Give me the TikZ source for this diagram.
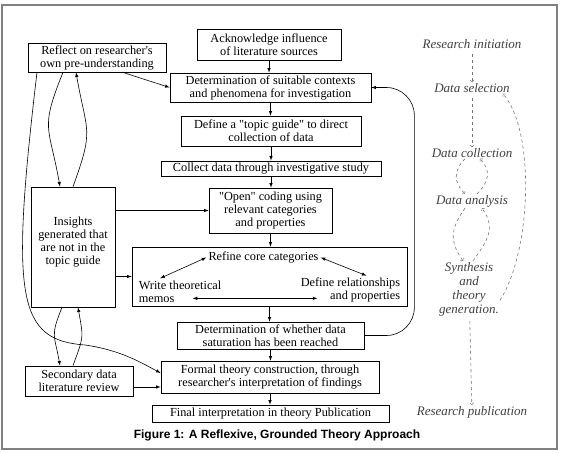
\documentclass[tikz,border=0pt]{standalone}
\usepackage{fontspec}
\setmainfont{Liberation Serif}[Ligatures=TeXOff]
\newfontfamily\capfont{Liberation Sans}
\usetikzlibrary{positioning}

\begin{document}
\begin{tikzpicture}[x=1pt,y=-1pt,>=latex,
  box/.style={draw, line width=0.7pt, align=center, inner sep=2pt, font=\fontsize{12.3}{13}\selectfont},
  boxtext/.style={align=center, inner sep=2pt, font=\fontsize{12.3}{13}\selectfont},
  stage/.style={align=center, inner sep=1pt, text=black!75, font=\fontsize{13}{14}\selectfont\itshape},
  link/.style={->, line width=0.6pt},
  dashcurve/.style={-to, dashed, black!55, line width=0.6pt}]

\useasboundingbox (0,0) rectangle (564,452);
\draw[gray, line width=1.2pt] (2,5) rectangle (557,449);

% main column
\node[box, minimum width=144, minimum height=31] (ack) at (269,44.5) {Acknowledge influence\\of literature sources};
\node[box, minimum width=201, minimum height=29] (context) at (270.5,87.5) {Determination of suitable contexts\\and phenomena for investigation};
\node[box, minimum width=180, minimum height=30] (guide) at (271,131) {Define a "topic guide" to direct\\collection of data};
\node[box, minimum width=220, minimum height=15] (collect) at (271,168.5) {Collect data through investigative study};
\node[box, minimum width=123, minimum height=45] (open) at (270.5,210.5) {"Open" coding using\\relevant categories\\and properties};
\node[box, minimum width=275, minimum height=59] (refine) at (269.5,276.5) {};
\node[box, minimum width=187, minimum height=27] (satur) at (270.5,335.5) {Determination of whether data\\saturation has been reached};
\node[box, minimum width=218, minimum height=32] (formal) at (270,377) {Formal theory construction, through\\researcher's interpretation of findings};
\node[box, minimum width=237, minimum height=17] (final) at (270.5,413.5) {Final interpretation in theory Publication};

% inside the refine box
\node[boxtext, anchor=north] (refinetxt) at ([xshift=-6,yshift=-3]refine.north) {Refine core categories};
\node[boxtext, anchor=south west, align=left] (memos) at ([xshift=5,yshift=2]refine.south west) {Write theoretical\\memos};
\node[boxtext, anchor=south east, align=right] (relprops) at ([xshift=-5,yshift=2]refine.south east) {Define relationships\\and properties};

% left column
\node[box, minimum width=138, minimum height=29] (reflect) at (97,57.5) {Reflect on researcher's\\own pre-understanding};
\node[box, minimum width=84, minimum height=120] (insights) at (73,247) {Insights\\generated that\\are not in the\\topic guide\\ {}};
\node[box, minimum width=108, minimum height=30] (second) at (79,381) {Secondary data\\literature review};

% right column
\node[stage] (init) at (472,44) {Research initiation};
\node[stage] (select) at (472,88) {Data selection};
\node[stage] (gather) at (472,153) {Data collection};
\node[stage] (analyse) at (472,201) {Data analysis};
\node[stage] (synth) at (469,289) {Synthesis\\and\\theory\\generation.};
\node[stage] (publish) at (472,412) {Research publication};

\node[font=\capfont\bfseries\fontsize{12}{13}\selectfont] (caption) at (277,435) {Figure 1: A Reflexive, Grounded Theory Approach};

% arrows down the middle
\foreach \a/\b in {ack/context, context/guide, guide/collect, collect/open, open/refine, refine/satur, satur/formal, formal/final}
  \draw[link] (\a.south) -- (\a.south |- \b.north);

\draw[link, <->] (refinetxt.west) -- ([xshift=-20]memos.north);
\draw[link, <->] (refinetxt.east) -- ([xshift=16]relprops.north);
\draw[link, <->] ([xshift=56,yshift=6]memos.south west) -- ([xshift=-85,yshift=6]relprops.south east);

% side arrows
\draw[link] (reflect.-30) -- (context.west);
\draw[link, looseness=1.4] ([xshift=-34]reflect.south) to[out=-112,in=100] ([xshift=-13]insights.north);
\draw[link, looseness=1.4] (insights.north) to[out=70,in=-80] ([xshift=-21]reflect.south);
\draw[link] ([xshift=-60]reflect.south) .. controls (10,300) and (18,340) .. (85,345) .. controls (120,350) and (140,362) .. ([yshift=4]formal.west);
\draw[link] (insights.east |- open.west) -- (open.west);
\draw[link] (insights.east |- refine.west) -- (refine.west);
\draw[link, looseness=1.4] ([xshift=-11]insights.south) to[out=-112,in=100] ([xshift=-19]second.north);
\draw[link, looseness=1.4] ([xshift=-6]second.north) to[out=70,in=-80] ([xshift=5]insights.south);
\draw[link] ([yshift=-6]second.east) -- ([yshift=-6]second.east -| formal.west);
\draw[link, rounded corners=28] (satur.east) -| ([xshift=43]context.east) -- (context.east);

% research stages
\draw[dashcurve, shorten <=4pt] (init) -- (select);
\draw[dashcurve, shorten <=4pt] (select) -- (gather);
\draw[dashcurve, shorten <=4pt] (synth) -- (publish);
\draw[dashcurve, looseness=1.2] ([xshift=-7]gather.south) to[out=-135,in=135] ([xshift=-7]analyse.north);
\draw[dashcurve, looseness=1.2] ([xshift=5]analyse.north) to[out=45,in=-45] ([xshift=8]gather.south);
\draw[dashcurve, looseness=1.2] ([xshift=-7]analyse.south) to[out=-125,in=125] ([xshift=-6]synth.north);
\draw[dashcurve, looseness=1.2] ([xshift=4]synth.north) to[out=55,in=-55] ([xshift=10]analyse.south);
\draw[dashcurve] (synth.-20) .. controls (532,250) and (535,130) .. ([xshift=-8]select.south east);

\end{tikzpicture}
\end{document}
